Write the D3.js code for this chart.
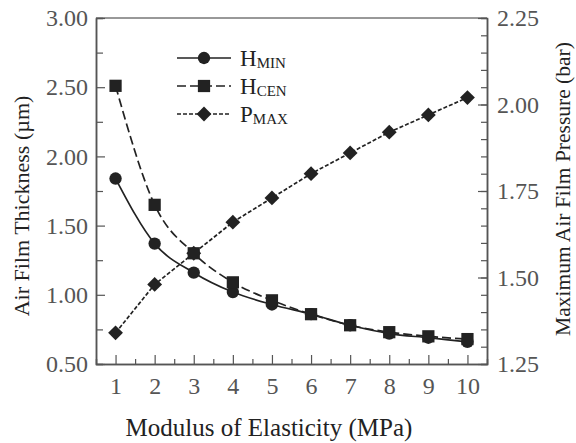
<!DOCTYPE html>
<html>
<head>
<meta charset="utf-8">
<script src="https://cdn.jsdelivr.net/npm/d3@7"></script>
<style>
	body { margin: 0; background: #fff; }
</style>
</head>
<body>
<svg id="chart" width="576" height="443"></svg>
<script>
const modulus = [1, 2, 3, 4, 5, 6, 7, 8, 9, 10];
const h_min = [1.84, 1.37, 1.16, 1.02, 0.93, 0.86, 0.78, 0.72, 0.69, 0.66];
const h_cen = [2.51, 1.65, 1.30, 1.09, 0.96, 0.86, 0.78, 0.73, 0.70, 0.68];
const p_max = [1.34, 1.48, 1.57, 1.66, 1.73, 1.80, 1.86, 1.92, 1.97, 2.02];

const left_ticks = [0.5, 1.0, 1.5, 2.0, 2.5, 3.0];
const right_ticks = [1.25, 1.5, 1.75, 2.0, 2.25];

const FONT = '"Liberation Serif", "DejaVu Serif", "Times New Roman", serif';

const margin = {top: 18, right: 89, bottom: 79, left: 96};
const width = 576;
const height = 443;

const svg = d3.select('#chart').attr('font-family', FONT);

const x = d3.scaleLinear().domain([0.5, 10.5]).range([margin.left, width - margin.right]);
const y_left = d3.scaleLinear().domain([0.5, 3.0]).range([height - margin.bottom, margin.top]);
const y_right = d3.scaleLinear().domain([1.25, 2.25]).range([height - margin.bottom, margin.top]);

const AXIS_COLOR = '#555';
const INK = '#222';

// top border
svg.append('line')
	.attr('x1', x.range()[0]).attr('x2', x.range()[1])
	.attr('y1', margin.top).attr('y2', margin.top)
	.attr('stroke', '#333').attr('stroke-width', 1);

function styleAxis(g) {
	g.attr('font-family', FONT);
	g.select('.domain').attr('stroke', AXIS_COLOR).attr('stroke-width', 1.5);
	g.selectAll('.tick line').attr('stroke', AXIS_COLOR).attr('stroke-width', 1.2);
	g.selectAll('.tick text')
		.attr('fill', AXIS_COLOR)
		.attr('font-family', FONT)
		.attr('font-size', 24);
}

// minor ticks
const x_minor = d3.range(1.5, 10.5, 1);
svg.append('g')
	.attr('transform', `translate(0,${height - margin.bottom})`)
	.call(d3.axisBottom(x).tickValues(x_minor).tickSize(-5).tickFormat(''))
	.call(styleAxis);

svg.append('g')
	.attr('transform', `translate(${margin.left},0)`)
	.call(d3.axisLeft(y_left).tickValues(d3.range(0.75, 3.0, 0.5)).tickSize(-7).tickFormat(''))
	.call(styleAxis);

svg.append('g')
	.attr('transform', `translate(${width - margin.right},0)`)
	.call(d3.axisRight(y_right).tickValues(d3.range(1.30, 2.24, 0.05)).tickSize(-6).tickFormat(''))
	.call(styleAxis);

// major ticks
svg.append('g')
	.attr('transform', `translate(0,${height - margin.bottom})`)
	.call(d3.axisBottom(x).tickValues(modulus).tickSizeInner(-9).tickSizeOuter(0).tickPadding(13).tickFormat(d3.format('d')))
	.call(styleAxis);

svg.append('g')
	.attr('transform', `translate(${margin.left},0)`)
	.call(d3.axisLeft(y_left).tickValues(left_ticks).tickSizeInner(-9).tickSizeOuter(0).tickPadding(8).tickFormat(d3.format('.2f')))
	.call(styleAxis);

svg.append('g')
	.attr('transform', `translate(${width - margin.right},0)`)
	.call(d3.axisRight(y_right).tickValues(right_ticks).tickSizeInner(-9).tickSizeOuter(0).tickPadding(10).tickFormat(d3.format('.2f')))
	.call(styleAxis);

// axis titles
svg.append('text')
	.attr('x', 269)
	.attr('y', 436)
	.attr('text-anchor', 'middle')
	.attr('fill', INK)
	.attr('font-size', 25)
	.text('Modulus of Elasticity (MPa)');

svg.append('text')
	.attr('transform', 'translate(29,206) rotate(-90)')
	.attr('text-anchor', 'middle')
	.attr('fill', INK)
	.attr('font-size', 22)
	.text('Air Film Thickness (µm)');

svg.append('text')
	.attr('transform', 'translate(570,189) rotate(-90)')
	.attr('text-anchor', 'middle')
	.attr('fill', INK)
	.attr('font-size', 21.5)
	.text('Maximum Air Film Pressure (bar)');

// series
const series = [
	{name: 'H', sub: 'MIN', values: h_min, scale: y_left, dash: null, marker: 'circle', curve: d3.curveMonotoneX},
	{name: 'H', sub: 'CEN', values: h_cen, scale: y_left, dash: '9,4', marker: 'square', curve: d3.curveMonotoneX},
	{name: 'P', sub: 'MAX', values: p_max, scale: y_right, dash: '4,2', marker: 'diamond', curve: d3.curveLinear}
];

const symbols = {
	circle: {d: d3.symbol().type(d3.symbolCircle).size(120)(), rotate: 0},
	square: {d: d3.symbol().type(d3.symbolSquare).size(150)(), rotate: 0},
	diamond: {d: d3.symbol().type(d3.symbolSquare).size(110)(), rotate: 45}
};

series.forEach(s => {
	const line = d3.line()
		.x((d, i) => x(modulus[i]))
		.y(d => s.scale(d))
		.curve(s.curve);

	svg.append('path')
		.attr('d', line(s.values))
		.attr('fill', 'none')
		.attr('stroke', INK)
		.attr('stroke-width', 1.7)
		.attr('stroke-dasharray', s.dash);

	svg.append('g')
		.selectAll('path')
		.data(s.values)
		.join('path')
		.attr('transform', (d, i) => `translate(${x(modulus[i])},${s.scale(d)}) rotate(${symbols[s.marker].rotate})`)
		.attr('d', symbols[s.marker].d)
		.attr('fill', INK);
});

// legend
const legend = svg.append('g');
const legend_y = [58, 86, 114];

series.forEach((s, i) => {
	const row = legend.append('g').attr('transform', `translate(0,${legend_y[i]})`);

	row.append('line')
		.attr('x1', 177).attr('x2', 231)
		.attr('stroke', INK)
		.attr('stroke-width', 1.7)
		.attr('stroke-dasharray', s.dash);

	row.append('path')
		.attr('transform', `translate(204,0) rotate(${symbols[s.marker].rotate})`)
		.attr('d', symbols[s.marker].d)
		.attr('fill', INK);

	const label = row.append('text')
		.attr('x', 240)
		.attr('y', 8)
		.attr('fill', INK)
		.attr('font-size', 23);

	label.append('tspan').text(s.name);
	label.append('tspan')
		.attr('dy', 2)
		.attr('font-size', 15)
		.text(s.sub);
});
</script>
</body>
</html>
